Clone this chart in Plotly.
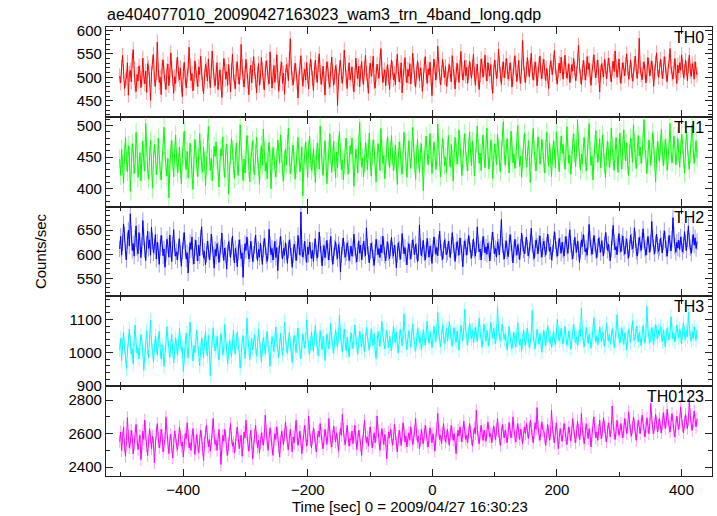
import numpy as np
import plotly.graph_objects as go
from plotly.subplots import make_subplots

title_text = "ae404077010_20090427163023_wam3_trn_4band_long.qdp"
x_title = "Time [sec] 0 = 2009/04/27 16:30:23"
y_title = "Counts/sec"
t_start = -502.0
t_stop = 425.0

TH0 = [503, 488, 521, 547, 512, 476, 494, 499, 531, 462, 508, 515, 490, 536, 559, 517, 483, 470, 506, 492,
       524, 511, 478, 497, 541, 502, 486, 513, 468, 529, 520, 495, 451, 507, 533, 548, 496, 481, 510, 575,
       516, 489, 500, 463, 523, 537, 509, 491, 474, 514, 528, 482, 505, 552, 519, 498, 466, 501, 487, 526,
       543, 507, 495, 520, 484, 459, 512, 532, 499, 477, 504, 518, 564, 525, 493, 508, 471, 489, 535, 515,
       497, 480, 522, 506, 545, 511, 486, 465, 500, 528, 517, 492, 539, 503, 478, 513, 556, 521, 494, 482,
       509, 531, 474, 499, 516, 488, 457, 505, 540, 524, 496, 512, 483, 527, 501, 469, 515, 549, 507, 490,
       476, 518, 533, 502, 485, 511, 570, 523, 497, 479, 508, 538, 514, 491, 463, 504, 526, 488, 519, 544,
       512, 495, 467, 506, 529, 483, 500, 542, 516, 492, 473, 510, 535, 521, 498, 486, 554, 513, 477, 501,
       525, 489, 511, 548, 504, 470, 496, 519, 532, 487, 509, 464, 502, 527, 515, 493, 538, 582, 522, 497,
       484, 507, 530, 513, 490, 456, 499, 523, 546, 510, 481, 505, 517, 494, 531, 503, 475, 512, 539, 520,
       498, 472, 514, 537, 506, 489, 527, 550, 511, 485, 500, 524, 496, 462, 508, 533, 518, 491, 479, 516,
       543, 509, 483, 501, 525, 512, 440, 492, 520, 536, 504, 487, 513, 558, 526, 499, 476, 510, 531, 495,
       507, 522, 488, 469, 503, 541, 515, 497, 524, 480, 511, 534, 501, 485, 519, 547, 508, 493, 466, 514,
       530, 502, 518, 545, 491, 477, 506, 528, 512, 498, 536, 561, 520, 489, 504, 516, 482, 509, 527, 500,
       474, 511, 537, 519, 495, 508, 484, 523, 549, 513, 490, 503, 531, 467, 499, 521, 542, 506, 488, 517,
       502, 529, 486, 512, 551, 524, 497, 479, 509, 535, 515, 493, 520, 505, 470, 496, 526, 544, 511, 487,
       518, 505, 532, 498, 461, 507, 539, 521, 494, 512, 566, 527, 503, 484, 510, 538, 516, 499, 523, 481,
       496, 514, 527, 508, 490, 546, 519, 501, 475, 506, 530, 512, 489, 522, 555, 517, 494, 509, 536, 503,
       521, 487, 510, 534, 516, 498, 522, 549, 507, 483, 512, 528, 495, 474, 505, 539, 525, 500, 518, 547,
       509, 492, 531, 515, 503, 527, 488, 466, 511, 537, 520, 497, 514, 560, 529, 506, 485, 517, 533, 499,
       514, 540, 523, 496, 508, 531, 512, 479, 502, 525, 546, 518, 491, 510, 536, 503, 487, 521, 578, 530,
       505, 488, 517, 542, 520, 501, 526, 551, 513, 494, 509, 533, 516, 482, 507, 528, 545, 511, 497, 524,
       538, 512, 493, 519, 502, 476, 510, 535, 521, 506, 532, 557, 524, 500, 486, 514, 530, 509, 543, 518,
       496, 522, 547, 515, 498, 511, 529, 489, 504, 527, 513, 540, 519, 493, 508, 534, 568, 525, 502, 485,
       511, 536, 520, 494, 509, 544, 517, 530, 505, 483, 512, 528, 548, 516, 499, 521, 537, 504, 469, 510,
       529, 515, 501, 538, 523, 497, 513, 541, 526, 508, 490, 519, 534, 512, 556, 522, 500, 516, 539, 505,
       487, 514, 531, 518, 503, 527, 550, 521, 496, 510, 537, 515, 492, 506, 529, 545, 513, 498, 524, 583,
       520, 506, 495, 517, 533, 512, 488, 509, 542, 525, 503, 518, 535, 514, 481, 511, 530, 552, 519, 500,
       516, 538, 522, 497, 513, 544, 527, 505, 491, 519, 534, 561, 523, 508, 496, 517, 540, 512, 487, 526,
       509, 531, 515, 548, 522, 499, 511, 536, 519, 493, 524, 547, 513, 502, 529, 518, 496, 533, 515, 505]

TH1 = [447, 421, 462, 438, 409, 455, 481, 443, 427, 468, 452, 396, 433, 471, 458, 424, 440, 489, 463, 418,
       436, 457, 412, 449, 475, 442, 428, 503, 466, 431, 415, 451, 477, 439, 401, 446, 470, 455, 422, 437,
       480, 453, 429, 414, 445, 468, 497, 459, 434, 420, 448, 386, 432, 461, 476, 444, 419, 456, 485, 450,
       425, 441, 466, 433, 408, 452, 474, 491, 447, 430, 459, 417, 440, 472, 454, 423, 399, 443, 478, 462,
       435, 419, 450, 487, 460, 438, 426, 465, 444, 405, 436, 471, 498, 455, 429, 448, 413, 439, 467, 451,
       474, 446, 428, 403, 441, 463, 452, 482, 434, 418, 457, 470, 445, 392, 427, 454, 479, 461, 437, 416,
       449, 472, 436, 421, 458, 501, 466, 440, 413, 447, 425, 453, 484, 469, 432, 411, 444, 459, 476, 430,
       422, 455, 481, 446, 435, 407, 450, 468, 437, 494, 461, 428, 442, 416, 457, 473, 448, 400, 439, 465,
       453, 431, 419, 448, 477, 459, 440, 485, 456, 426, 412, 445, 463, 438, 470, 496, 451, 424, 437, 458,
       469, 443, 415, 433, 460, 481, 452, 427, 441, 466, 389, 434, 455, 474, 447, 418, 462, 483, 449, 429,
       440, 464, 437, 410, 446, 472, 458, 431, 499, 467, 439, 421, 452, 476, 444, 408, 435, 461, 487, 454,
       426, 450, 475, 443, 417, 458, 433, 469, 490, 457, 430, 446, 414, 438, 465, 480, 451, 423, 442, 468,
       455, 480, 446, 404, 437, 462, 448, 425, 470, 505, 459, 434, 449, 419, 441, 473, 457, 430, 462, 488,
       444, 420, 453, 477, 463, 436, 411, 447, 471, 458, 429, 495, 466, 440, 452, 416, 438, 464, 482, 450,
       433, 459, 484, 452, 428, 445, 469, 439, 407, 448, 474, 461, 436, 423, 456, 489, 467, 442, 418, 451,
       476, 449, 432, 460, 497, 465, 441, 415, 454, 478, 447, 426, 458, 471, 437, 397, 445, 468, 483, 456,
       438, 462, 487, 452, 424, 449, 473, 460, 431, 444, 502, 468, 441, 419, 455, 479, 463, 437, 450, 426,
       460, 484, 451, 434, 470, 446, 412, 457, 481, 466, 439, 453, 493, 474, 448, 421, 444, 469, 487, 458,
       443, 428, 464, 490, 457, 436, 475, 451, 420, 447, 472, 499, 462, 440, 456, 429, 466, 485, 452, 433,
       469, 496, 458, 431, 449, 477, 463, 416, 445, 471, 457, 438, 486, 465, 442, 427, 460, 481, 506, 454,
       437, 462, 479, 450, 425, 458, 491, 468, 441, 455, 432, 448, 474, 500, 461, 435, 452, 418, 446, 470,
       488, 459, 434, 449, 476, 453, 410, 447, 469, 495, 460, 443, 428, 457, 482, 466, 439, 451, 478, 462,
       441, 425, 463, 489, 455, 436, 472, 448, 419, 452, 476, 461, 433, 490, 468, 445, 427, 459, 483, 456,
       470, 447, 431, 458, 498, 464, 440, 453, 423, 446, 471, 487, 457, 435, 462, 508, 474, 448, 430, 455,
       439, 466, 481, 454, 428, 449, 477, 503, 460, 437, 451, 414, 445, 470, 492, 463, 442, 456, 479, 433,
       458, 485, 462, 440, 417, 452, 475, 460, 434, 448, 496, 467, 445, 429, 457, 481, 453, 426, 463, 488,
       450, 431, 467, 493, 461, 444, 472, 438, 421, 456, 480, 464, 442, 501, 473, 447, 432, 459, 484, 452,
       466, 440, 455, 482, 509, 463, 446, 424, 451, 477, 461, 437, 458, 489, 470, 444, 411, 449, 475, 460,
       443, 469, 494, 458, 436, 453, 478, 465, 429, 447, 472, 503, 460, 441, 455, 483, 466, 438, 452, 480,
       457, 434, 462, 486, 470, 448, 425, 459, 491, 468, 445, 431, 456, 479, 500, 463, 440, 458, 476, 449]

TH2 = [611, 637, 598, 624, 663, 640, 605, 589, 628, 650, 617, 684, 642, 608, 622, 596, 633, 659, 614, 601,
       645, 626, 593, 618, 670, 635, 609, 587, 621, 648, 612, 630, 598, 656, 627, 603, 616, 641, 590, 625,
       607, 579, 614, 639, 622, 597, 611, 573, 602, 631, 618, 594, 640, 609, 585, 620, 651, 613, 596, 605,
       588, 616, 632, 601, 575, 607, 628, 645, 612, 590, 603, 561, 598, 624, 610, 636, 595, 580, 614, 629,
       603, 586, 619, 597, 634, 657, 615, 592, 606, 578, 600, 627, 611, 589, 604, 642, 620, 598, 571, 610,
       596, 622, 608, 583, 601, 616, 644, 609, 587, 613, 598, 569, 603, 626, 612, 593, 617, 638, 604, 582,
       612, 599, 574, 605, 630, 614, 591, 603, 552, 597, 622, 608, 636, 615, 590, 601, 627, 609, 585, 600,
       618, 640, 607, 586, 610, 594, 623, 602, 579, 611, 633, 616, 597, 585, 606, 652, 621, 599, 612, 588,
       605, 627, 593, 614, 566, 601, 619, 637, 608, 590, 612, 598, 624, 605, 581, 609, 630, 614, 596, 573,
       599, 621, 610, 587, 604, 639, 617, 598, 688, 612, 594, 606, 627, 601, 583, 615, 600, 625, 609, 591,
       608, 585, 617, 632, 603, 592, 611, 646, 621, 600, 576, 604, 618, 593, 610, 629, 606, 588, 614, 637,
       602, 579, 597, 613, 626, 605, 591, 620, 608, 563, 599, 616, 634, 609, 594, 603, 624, 612, 587, 601,
       617, 596, 611, 642, 614, 598, 584, 607, 628, 602, 619, 589, 605, 627, 611, 597, 655, 616, 600, 582,
       606, 623, 609, 592, 577, 604, 631, 615, 599, 612, 593, 620, 603, 638, 617, 598, 586, 610, 626, 604,
       591, 613, 635, 608, 596, 619, 603, 572, 600, 624, 611, 589, 607, 643, 618, 601, 614, 595, 578, 609,
       622, 605, 590, 612, 630, 616, 599, 621, 606, 584, 603, 661, 615, 597, 611, 629, 602, 588, 609, 633,
       610, 594, 617, 603, 581, 612, 636, 619, 600, 614, 597, 625, 648, 613, 604, 589, 608, 630, 616, 599,
       604, 627, 611, 593, 618, 645, 620, 606, 585, 609, 626, 613, 598, 634, 617, 602, 574, 611, 628, 615,
       598, 616, 639, 621, 607, 592, 613, 632, 609, 596, 619, 657, 622, 605, 611, 588, 614, 637, 620, 603,
       615, 600, 623, 610, 586, 607, 629, 646, 618, 601, 612, 594, 626, 615, 599, 633, 672, 619, 605, 590,
       612, 628, 607, 595, 617, 641, 624, 603, 582, 610, 631, 614, 598, 620, 606, 589, 615, 644, 623, 609,
       601, 618, 636, 613, 597, 609, 625, 654, 620, 604, 591, 612, 630, 617, 601, 623, 638, 609, 594, 616,
       627, 611, 598, 619, 642, 624, 606, 615, 588, 603, 621, 647, 628, 610, 596, 613, 633, 618, 602, 625,
       609, 596, 620, 637, 615, 602, 628, 651, 621, 606, 590, 613, 635, 619, 604, 627, 611, 583, 608, 630,
       616, 641, 623, 605, 612, 598, 626, 662, 631, 614, 600, 617, 639, 622, 607, 593, 615, 634, 620, 604,
       628, 612, 597, 619, 645, 629, 608, 621, 603, 587, 611, 636, 660, 625, 609, 616, 599, 622, 643, 618,
       605, 624, 638, 614, 600, 618, 632, 607, 592, 613, 640, 626, 611, 619, 655, 630, 606, 596, 617, 635,
       621, 608, 629, 653, 627, 612, 598, 616, 637, 620, 604, 625, 668, 633, 615, 601, 622, 642, 618, 606,
       614, 633, 619, 603, 626, 649, 630, 611, 596, 620, 639, 623, 607, 631, 676, 640, 617, 604, 625, 613,
       629, 610, 636, 621, 605, 618, 647, 624, 608, 632, 659, 627, 614, 602, 623, 641, 619, 634, 612, 626]

TH3 = [1008, 1043, 976, 1022, 1061, 1017, 989, 952, 1004, 1036, 1071, 1029, 995, 1012, 966, 1040, 1083, 1025, 998, 1014,
       981, 1019, 1054, 1033, 1002, 947, 990, 1027, 1066, 1011, 985, 1044, 1097, 1030, 1006, 972, 1015, 1050, 1023, 993,
       1037, 1064, 1009, 980, 1024, 1001, 958, 997, 1032, 1078, 1041, 1013, 986, 1020, 1055, 1007, 969, 1003, 1046, 1018,
       991, 1028, 1073, 1035, 1004, 1016, 943, 987, 1026, 1059, 1012, 983, 1039, 1092, 1048, 1010, 975, 1021, 1000, 1034,
       1067, 1025, 996, 960, 1008, 1045, 1019, 984, 1031, 1063, 1014, 990, 1052, 1006, 931, 999, 1038, 1075, 1027, 1005,
       1016, 1049, 1003, 978, 1021, 1057, 1033, 994, 1011, 1085, 1042, 1009, 965, 1002, 1036, 1018, 988, 1029, 1068, 1013,
       997, 1035, 1062, 1024, 1001, 953, 993, 1030, 1051, 1017, 982, 1026, 1104, 1047, 1012, 979, 1015, 1043, 1008, 1032,
       1054, 1018, 989, 1022, 1070, 1037, 1006, 973, 1010, 1045, 1025, 996, 1039, 1064, 1020, 1001, 959, 1012, 1048, 1027,
       1003, 1041, 1077, 1034, 1011, 985, 1023, 1058, 1016, 992, 1030, 1091, 1046, 1014, 999, 1033, 1061, 1025, 1005, 970,
       1019, 1052, 1028, 1000, 1042, 1074, 1031, 1007, 981, 1021, 1056, 1036, 1013, 1040, 1099, 1050, 1017, 994, 1026, 1063,
       1029, 1004, 1045, 1081, 1038, 1015, 990, 1027, 1066, 1032, 1009, 1049, 1022, 976, 1018, 1055, 1037, 1011, 1044, 1088,
       1043, 1020, 998, 1035, 1069, 1040, 1016, 1052, 1112, 1057, 1024, 1002, 1039, 1071, 1030, 1006, 1047, 1019, 987, 1028,
       1060, 1034, 1012, 1048, 1083, 1046, 1023, 995, 1031, 1065, 1041, 1017, 1054, 1025, 1003, 1038, 1076, 1050, 1026, 1008,
       1036, 1072, 1045, 1021, 1057, 1010, 982, 1029, 1063, 1042, 1018, 1051, 1094, 1055, 1033, 1011, 1044, 1068, 1037, 1015,
       1049, 1027, 1005, 1040, 1078, 1053, 1031, 1062, 1024, 999, 1035, 1070, 1047, 1021, 1058, 1117, 1061, 1032, 1009, 1043,
       1066, 1039, 1016, 1052, 1087, 1048, 1025, 1004, 1037, 1073, 1055, 1030, 1046, 1008, 1034, 1069, 1044, 1022, 1059, 1095,
       1050, 1028, 1063, 1042, 1014, 1046, 1079, 1056, 1033, 1067, 1121, 1060, 1038, 1017, 1051, 1084, 1049, 1027, 1041, 1072,
       1035, 1058, 1093, 1061, 1037, 1020, 1054, 1075, 1045, 1031, 1064, 1040, 1007, 1048, 1082, 1059, 1036, 1071, 1130, 1066,
       1044, 1022, 1057, 1089, 1063, 1041, 1068, 1030, 1052, 1077, 1055, 1033, 1070, 1103, 1062, 1039, 1016, 1053, 1086, 1058,
       1034, 1067, 1045, 1019, 1056, 1092, 1065, 1043, 1074, 1049, 1026, 1061, 1138, 1072, 1050, 1036, 1064, 1085, 1057, 1040,
       1056, 1031, 1009, 1043, 1078, 1049, 1026, 1012, 1038, 1061, 1034, 1017, 1053, 1090, 1046, 1023, 1040, 1004, 1035, 1068,
       1042, 1020, 1051, 1074, 1039, 1015, 1032, 1059, 1127, 1055, 1028, 1011, 1044, 1070, 1047, 1025, 1058, 1033, 1001, 1038,
       1067, 1043, 1021, 1050, 1082, 1054, 1029, 1045, 1016, 1037, 1063, 1040, 1024, 1056, 1100, 1059, 1035, 1048, 1073, 1041,
       1026, 1052, 1079, 1046, 1022, 1038, 1065, 1044, 1010, 1036, 1061, 1086, 1053, 1030, 1047, 1023, 1042, 1071, 1049, 1133,
       1060, 1035, 1018, 1043, 1076, 1051, 1028, 1055, 1039, 1013, 1041, 1069, 1105, 1057, 1032, 1049, 1024, 1046, 1077, 1053,
       1034, 1062, 1041, 1019, 1048, 1088, 1058, 1036, 1054, 1027, 1045, 1072, 1050, 1015, 1038, 1066, 1114, 1063, 1042, 1029,
       1051, 1075, 1047, 1025, 1059, 1040, 1008, 1044, 1070, 1052, 1031, 1064, 1096, 1056, 1037, 1049, 1080, 1054, 1033, 1061,
       1043, 1021, 1057, 1081, 1048, 1028, 1065, 1139, 1071, 1046, 1030, 1053, 1076, 1050, 1024, 1058, 1085, 1062, 1040, 1067,
       1052, 1079, 1055, 1033, 1068, 1044, 1017, 1050, 1074, 1057, 1038, 1063, 1108, 1066, 1041, 1059, 1032, 1054, 1083, 1060,
       1045, 1070, 1051, 1026, 1062, 1091, 1056, 1039, 1067, 1048, 1122, 1073, 1049, 1035, 1064, 1042, 1078, 1055, 1037, 1069]

TH0123 = [2552, 2610, 2498, 2575, 2640, 2530, 2465, 2560, 2695, 2585, 2515, 2545, 2620, 2580, 2480, 2535, 2600, 2655, 2570, 2505,
          2540, 2590, 2445, 2520, 2615, 2565, 2680, 2595, 2525, 2470, 2555, 2630, 2575, 2510, 2585, 2540, 2425, 2530, 2605, 2660,
          2575, 2515, 2550, 2625, 2590, 2490, 2535, 2570, 2700, 2610, 2545, 2480, 2560, 2595, 2520, 2455, 2540, 2615, 2580, 2530,
          2505, 2565, 2640, 2585, 2525, 2550, 2460, 2535, 2600, 2570, 2665, 2590, 2515, 2545, 2500, 2580, 2630, 2555, 2475, 2540,
          2595, 2530, 2485, 2560, 2620, 2575, 2510, 2440, 2545, 2605, 2650, 2580, 2520, 2565, 2495, 2550, 2610, 2690, 2585, 2535,
          2560, 2500, 2570, 2625, 2545, 2415, 2515, 2590, 2555, 2625, 2580, 2505, 2470, 2540, 2600, 2660, 2575, 2525, 2550, 2485,
          2530, 2595, 2640, 2570, 2510, 2555, 2590, 2465, 2535, 2610, 2575, 2680, 2600, 2540, 2495, 2565, 2620, 2545, 2450, 2525,
          2590, 2650, 2575, 2515, 2560, 2485, 2545, 2605, 2570, 2530, 2590, 2710, 2615, 2550, 2500, 2575, 2635, 2585, 2520, 2470,
          2545, 2600, 2565, 2640, 2585, 2520, 2460, 2555, 2615, 2580, 2535, 2595, 2670, 2605, 2540, 2505, 2570, 2625, 2560, 2490,
          2580, 2545, 2610, 2680, 2595, 2530, 2570, 2615, 2555, 2480, 2540, 2600, 2650, 2585, 2525, 2565, 2705, 2620, 2560, 2515,
          2575, 2635, 2590, 2540, 2490, 2560, 2615, 2580, 2660, 2600, 2545, 2510, 2570, 2625, 2585, 2535, 2595, 2690, 2610, 2550,
          2520, 2585, 2645, 2600, 2550, 2605, 2560, 2495, 2575, 2630, 2590, 2715, 2625, 2565, 2535, 2595, 2650, 2580, 2525, 2570,
          2560, 2615, 2540, 2590, 2650, 2575, 2505, 2565, 2620, 2585, 2530, 2470, 2555, 2610, 2680, 2595, 2545, 2580, 2525, 2600,
          2640, 2570, 2515, 2560, 2605, 2545, 2590, 2705, 2620, 2565, 2500, 2575, 2630, 2585, 2535, 2595, 2555, 2450, 2540, 2610,
          2575, 2625, 2585, 2530, 2570, 2655, 2600, 2545, 2490, 2565, 2620, 2580, 2530, 2595, 2665, 2610, 2550, 2585, 2520, 2570,
          2605, 2560, 2640, 2590, 2535, 2575, 2615, 2690, 2600, 2550, 2585, 2510, 2560, 2625, 2575, 2540, 2595, 2650, 2605, 2555,
          2520, 2580, 2635, 2590, 2545, 2600, 2560, 2495, 2570, 2630, 2720, 2615, 2565, 2590, 2540, 2605, 2660, 2595, 2550, 2580,
          2625, 2575, 2530, 2595, 2650, 2605, 2560, 2600, 2545, 2480, 2570, 2620, 2585, 2640, 2595, 2550, 2610, 2675, 2615, 2565,
          2590, 2545, 2605, 2660, 2610, 2570, 2525, 2590, 2635, 2600, 2740, 2625, 2575, 2540, 2605, 2650, 2595, 2560, 2620, 2585,
          2555, 2610, 2670, 2620, 2580, 2600, 2545, 2595, 2645, 2605, 2565, 2625, 2690, 2615, 2570, 2530, 2600, 2655, 2610, 2575,
          2620, 2585, 2545, 2605, 2665, 2620, 2575, 2610, 2700, 2630, 2580, 2550, 2610, 2660, 2605, 2565, 2625, 2590, 2540, 2600,
          2640, 2600, 2660, 2615, 2570, 2620, 2680, 2630, 2590, 2545, 2605, 2665, 2625, 2755, 2640, 2595, 2560, 2615, 2670, 2620,
          2615, 2575, 2530, 2590, 2655, 2610, 2560, 2600, 2740, 2640, 2585, 2545, 2605, 2665, 2595, 2510, 2575, 2630, 2590, 2555,
          2600, 2660, 2620, 2570, 2535, 2595, 2640, 2600, 2555, 2615, 2690, 2630, 2580, 2545, 2610, 2675, 2620, 2565, 2600, 2720,
          2625, 2580, 2540, 2600, 2660, 2615, 2570, 2630, 2585, 2520, 2590, 2650, 2700, 2625, 2575, 2610, 2560, 2620, 2680, 2605,
          2570, 2630, 2695, 2640, 2590, 2550, 2610, 2665, 2625, 2580, 2640, 2765, 2660, 2600, 2565, 2620, 2680, 2635, 2590, 2615,
          2660, 2610, 2575, 2625, 2690, 2650, 2600, 2640, 2730, 2665, 2615, 2585, 2635, 2700, 2655, 2600, 2560, 2625, 2680, 2640,
          2600, 2655, 2710, 2660, 2620, 2580, 2640, 2695, 2645, 2600, 2660, 2780, 2690, 2635, 2600, 2655, 2715, 2665, 2610, 2650,
          2690, 2640, 2605, 2660, 2725, 2680, 2630, 2670, 2745, 2685, 2640, 2610, 2665, 2720, 2670, 2615, 2580, 2650, 2705, 2660,
          2625, 2680, 2760, 2690, 2645, 2605, 2665, 2715, 2670, 2630, 2685, 2800, 2705, 2655, 2620, 2675, 2735, 2680, 2640, 2690]

series_names = ["TH0", "TH1", "TH2", "TH3", "TH0123"]
series_values = [TH0, TH1, TH2, TH3, TH0123]
series_errors = [16, 15, 17, 22, 38]

colors = ["#ff0000", "#00ff00", "#0000ff", "#00ffff", "#ff00ff"]
err_colors = ["rgba(255,0,0,0.4)", "rgba(0,255,0,0.4)", "rgba(0,0,255,0.4)",
              "rgba(0,255,255,0.4)", "rgba(255,0,255,0.4)"]
y_ranges = [[416, 607], [372, 513.5], [512.5, 699], [899, 1169], [2347, 2883]]
y_major = [50, 50, 50, 100, 200]
y_minor = [10, 10, 10, 20, 100]
y_tick0 = [400, 400, 500, 900, 2400]
x_range = [-524, 449]
FONT = "Liberation Sans"

fig = make_subplots(rows=5, cols=1, shared_xaxes=True, vertical_spacing=0)

for i, (name, vals) in enumerate(zip(series_names, series_values)):
    t = np.linspace(t_start, t_stop, len(vals))
    fig.add_trace(go.Scatter(
        x=t, y=vals, mode="lines",
        line=dict(color=colors[i], width=1, simplify=False),
        error_y=dict(type="constant", value=series_errors[i], color=err_colors[i],
                     thickness=1, width=0),
        showlegend=False, hoverinfo="skip"), row=i + 1, col=1)
    sfx = str(i + 1) if i else ""
    fig.add_annotation(text=name, xref=f"x{sfx} domain", yref=f"y{sfx} domain",
                       x=0.99, y=1.0, xanchor="right", yanchor="top", showarrow=False,
                       font=dict(size=16, color="black", family=FONT))
    fig.update_yaxes(range=y_ranges[i], dtick=y_major[i], tick0=y_tick0[i],
                     row=i + 1, col=1)

axis_style = dict(showline=True, linecolor="#222", linewidth=1.3, mirror="allticks",
                  ticks="inside", ticklen=7, tickwidth=1, tickcolor="#222",
                  showgrid=False, zeroline=False,
                  tickfont=dict(size=15, color="black", family=FONT))
fig.update_xaxes(**axis_style, range=x_range, dtick=200, tick0=0,
                 minor=dict(dtick=100, ticklen=4, tickcolor="#222", ticks="inside"))
for i in range(5):
    fig.update_yaxes(**axis_style,
                     minor=dict(dtick=y_minor[i], ticklen=4, tickcolor="#222", ticks="inside"),
                     row=i + 1, col=1)
fig.update_xaxes(showticklabels=True, row=5, col=1)

fig.add_annotation(text=y_title, xref="paper", yref="paper", x=-0.108, y=0.5,
                   textangle=-90, showarrow=False, xanchor="center", yanchor="middle",
                   font=dict(size=15, color="black", family=FONT))
fig.add_annotation(text=x_title, xref="paper", yref="paper",
                   x=0.502, y=-0.068, showarrow=False, xanchor="center", yanchor="middle",
                   font=dict(size=15, color="black", family=FONT))

fig.update_layout(
    width=717, height=516,
    margin=dict(l=106, r=5, t=27, b=40),
    paper_bgcolor="white", plot_bgcolor="white",
    title=dict(text=title_text, x=107 / 717, xanchor="left", y=1 - 14 / 516, yanchor="middle",
               font=dict(size=16, color="black", family=FONT)),
    font=dict(family=FONT, color="black"),
)

fig.write_html("out.html", config={"displayModeBar": False},
               post_script="document.body.style.margin='0px';")
